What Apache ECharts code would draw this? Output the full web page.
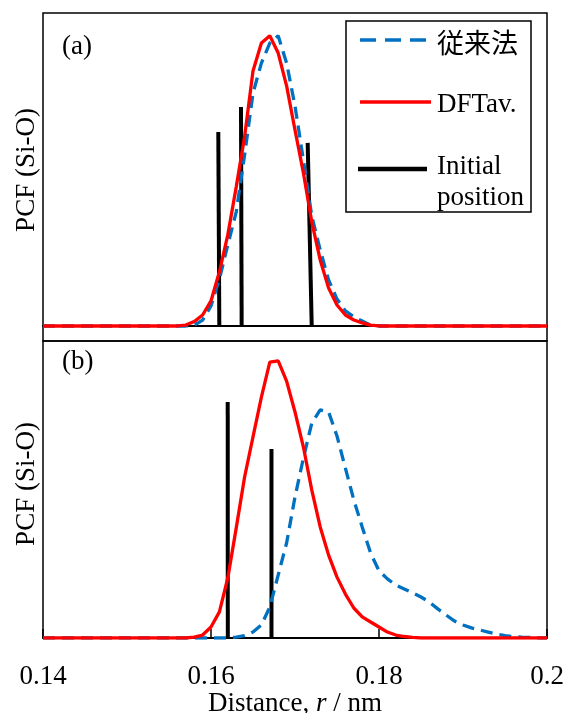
<!DOCTYPE html>
<html>
<head>
<meta charset="utf-8">
<script src="https://cdn.jsdelivr.net/npm/echarts@6/dist/echarts.min.js"></script>
<style>
html,body{margin:0;padding:0;background:#fff;}
#chart{width:566px;height:713px;}
</style>
</head>
<body>
<div id="chart"></div>
<script>
// ---------------- data ----------------
const xTicks = [0.14, 0.16, 0.18, 0.2];

// panel (a)
const rTop = [0.140, 0.155, 0.156, 0.157, 0.158, 0.159, 0.160, 0.161, 0.162, 0.163, 0.164, 0.165, 0.166, 0.167, 0.168, 0.169, 0.170, 0.171, 0.172, 0.173, 0.174, 0.175, 0.176, 0.177, 0.178, 0.179, 0.180, 0.181, 0.200];
const conventionalTop = [0, 0, 0, 0, 0.002, 0.019, 0.064, 0.150, 0.259, 0.364, 0.546, 0.744, 0.840, 0.904, 0.927, 0.840, 0.703, 0.530, 0.351, 0.243, 0.147, 0.086, 0.048, 0.029, 0.016, 0.003, 0, 0, 0];
const dftavTop = [0, 0, 0, 0.003, 0.014, 0.035, 0.080, 0.173, 0.291, 0.444, 0.605, 0.815, 0.904, 0.927, 0.872, 0.767, 0.626, 0.489, 0.332, 0.211, 0.121, 0.067, 0.035, 0.019, 0.010, 0.003, 0, 0, 0];
const initTopBaseR = [0.16099, 0.16365, 0.17199];
const initTopTipR = [0.16087, 0.16357, 0.17151];
const initTopH = [0.620, 0.700, 0.585];

// panel (b)
const rBottom = [0.140, 0.155, 0.156, 0.157, 0.158, 0.159, 0.160, 0.161, 0.162, 0.163, 0.164, 0.165, 0.166, 0.167, 0.168, 0.169, 0.170, 0.171, 0.172, 0.173, 0.174, 0.175, 0.176, 0.177, 0.178, 0.179, 0.180, 0.181, 0.182, 0.183, 0.184, 0.185, 0.186, 0.187, 0.188, 0.189, 0.190, 0.191, 0.192, 0.193, 0.194, 0.195, 0.196, 0.197, 0.198, 0.199, 0.200];
const conventionalBottom = [0, 0, 0, 0, 0, 0, 0, 0, 0, 0.003, 0.008, 0.020, 0.044, 0.104, 0.212, 0.320, 0.475, 0.606, 0.724, 0.768, 0.761, 0.680, 0.572, 0.465, 0.374, 0.286, 0.226, 0.199, 0.178, 0.165, 0.152, 0.138, 0.121, 0.098, 0.077, 0.057, 0.044, 0.034, 0.027, 0.020, 0.013, 0.008, 0.005, 0.003, 0.002, 0, 0];
const dftavBottom = [0, 0, 0, 0, 0.003, 0.010, 0.037, 0.088, 0.202, 0.370, 0.542, 0.677, 0.811, 0.929, 0.933, 0.865, 0.761, 0.643, 0.498, 0.374, 0.279, 0.205, 0.148, 0.101, 0.071, 0.054, 0.037, 0.020, 0.010, 0.005, 0.002, 0, 0, 0, 0, 0, 0, 0, 0, 0, 0, 0, 0, 0, 0, 0, 0];
const initBottomBaseR = [0.16200, 0.16720];
const initBottomTipR = [0.16199, 0.16720];
const initBottomH = [0.795, 0.636];

const legendNames = ['従来法', 'DFTav.', 'Initial position'];
const yLabel = 'PCF (Si-O)';
const panelLabels = ['(a)', '(b)'];

// ---------------- chart ----------------
const BLUE = '#0070C0', RED = '#FF0000', BLACK = '#000000';
const SERIF = '"Liberation Serif", "Times New Roman", serif';
const FS = 27;

function pairs(xs, ys) { return xs.map((x, i) => [x, ys[i]]); }

const series = [];
initTopBaseR.forEach((r, i) => {
  series.push({ name: legendNames[2], type: 'line', xAxisIndex: 0, yAxisIndex: 0,
    data: [[r, 0], [initTopTipR[i], initTopH[i]]], showSymbol: false, symbol: 'none',
    lineStyle: { color: BLACK, width: 4 }, z: 2 });
});
series.push({ name: legendNames[0], type: 'line', xAxisIndex: 0, yAxisIndex: 0,
  data: pairs(rTop, conventionalTop), showSymbol: false, symbol: 'none',
  lineStyle: { color: BLUE, width: 3.3, type: [12, 7] }, z: 3 });
series.push({ name: legendNames[1], type: 'line', xAxisIndex: 0, yAxisIndex: 0,
  data: pairs(rTop, dftavTop), showSymbol: false, symbol: 'none',
  lineStyle: { color: RED, width: 3.3 }, z: 4 });

initBottomBaseR.forEach((r, i) => {
  series.push({ name: legendNames[2], type: 'line', xAxisIndex: 1, yAxisIndex: 1,
    data: [[r, 0], [initBottomTipR[i], initBottomH[i]]], showSymbol: false, symbol: 'none',
    lineStyle: { color: BLACK, width: 4 }, z: 2 });
});
series.push({ name: legendNames[0], type: 'line', xAxisIndex: 1, yAxisIndex: 1,
  data: pairs(rBottom, conventionalBottom), showSymbol: false, symbol: 'none',
  lineStyle: { color: BLUE, width: 3.3, type: [12, 7] }, z: 3 });
series.push({ name: legendNames[1], type: 'line', xAxisIndex: 1, yAxisIndex: 1,
  data: pairs(rBottom, dftavBottom), showSymbol: false, symbol: 'none',
  lineStyle: { color: RED, width: 3.3 }, z: 4 });

const chart = echarts.init(document.getElementById('chart'), null, { renderer: 'canvas' });
chart.setOption({
  animation: false,
  backgroundColor: '#fff',
  grid: [
    { left: 43, top: 13, width: 504, height: 328, show: true, borderColor: BLACK, borderWidth: 1.5,
      containLabel: false, outerBoundsMode: 'none' },
    { left: 43, top: 341, width: 504, height: 297, show: true, borderColor: BLACK, borderWidth: 1.5,
      containLabel: false, outerBoundsMode: 'none' }
  ],
  xAxis: [
    { type: 'value', gridIndex: 0, min: xTicks[0], max: xTicks[xTicks.length - 1], interval: 0.02,
      axisLine: { show: true, onZero: true, lineStyle: { color: BLACK, width: 2 } },
      axisTick: { show: false }, axisLabel: { show: false }, splitLine: { show: false } },
    { type: 'value', gridIndex: 1, min: xTicks[0], max: xTicks[xTicks.length - 1], interval: 0.02,
      axisLine: { show: true, onZero: false, lineStyle: { color: BLACK, width: 2 } },
      axisTick: { show: true, inside: true, length: 9, lineStyle: { color: BLACK, width: 1.5 } },
      axisLabel: { show: true, color: BLACK, fontSize: FS, fontFamily: SERIF, margin: 25,
        formatter: v => { const t = xTicks.find(x => Math.abs(x - v) < 1e-9); return t === undefined ? '' : String(t); } },
      splitLine: { show: false },
      name: 'Distance, {i|r} / nm', nameLocation: 'middle', nameGap: 50,
      nameTextStyle: { color: BLACK, fontSize: FS, fontFamily: SERIF,
        rich: { i: { fontStyle: 'italic', fontSize: FS, fontFamily: SERIF, color: BLACK } } } }
  ],
  yAxis: [
    { type: 'value', gridIndex: 0, min: -0.048, max: 1,
      axisLine: { show: false }, axisTick: { show: false }, axisLabel: { show: false }, splitLine: { show: false } },
    { type: 'value', gridIndex: 1, min: 0, max: 1,
      axisLine: { show: false }, axisTick: { show: false }, axisLabel: { show: false }, splitLine: { show: false } }
  ],
  series: series,
  graphic: [
    { type: 'text', x: 27, y: 170, rotation: Math.PI / 2,
      style: { text: yLabel, fill: BLACK, font: FS + 'px ' + SERIF, align: 'center', verticalAlign: 'middle' } },
    { type: 'text', x: 27, y: 484, rotation: Math.PI / 2,
      style: { text: yLabel, fill: BLACK, font: FS + 'px ' + SERIF, align: 'center', verticalAlign: 'middle' } },
    { type: 'text', x: 62, y: 47,
      style: { text: panelLabels[0], fill: BLACK, font: FS + 'px ' + SERIF, align: 'left', verticalAlign: 'middle' } },
    { type: 'text', x: 62, y: 362,
      style: { text: panelLabels[1], fill: BLACK, font: FS + 'px ' + SERIF, align: 'left', verticalAlign: 'middle' } },
    // legend box
    { type: 'rect', shape: { x: 346, y: 21, width: 185, height: 191 },
      style: { fill: '#fff', stroke: BLACK, lineWidth: 1.5 }, z: 10 },
    { type: 'line', shape: { x1: 360, y1: 40, x2: 430, y2: 40 },
      style: { stroke: BLUE, lineWidth: 3.5, lineDash: [16, 9] }, z: 11 },
    { type: 'line', shape: { x1: 360, y1: 102, x2: 431, y2: 102 },
      style: { stroke: RED, lineWidth: 3.5 }, z: 11 },
    { type: 'line', shape: { x1: 358, y1: 169, x2: 427, y2: 169 },
      style: { stroke: BLACK, lineWidth: 4.5 }, z: 11 },
    { type: 'text', x: 437, y: 43, z: 11,
      style: { text: legendNames[0], fill: BLACK, font: FS + 'px "Noto Sans CJK JP", sans-serif', align: 'left', verticalAlign: 'middle' } },
    { type: 'text', x: 437, y: 105, z: 11,
      style: { text: legendNames[1], fill: BLACK, font: FS + 'px ' + SERIF, align: 'left', verticalAlign: 'middle' } },
    { type: 'text', x: 437, y: 167, z: 11,
      style: { text: 'Initial', fill: BLACK, font: FS + 'px ' + SERIF, align: 'left', verticalAlign: 'middle' } },
    { type: 'text', x: 437, y: 198, z: 11,
      style: { text: 'position', fill: BLACK, font: FS + 'px ' + SERIF, align: 'left', verticalAlign: 'middle' } }
  ]
});
</script>
</body>
</html>
